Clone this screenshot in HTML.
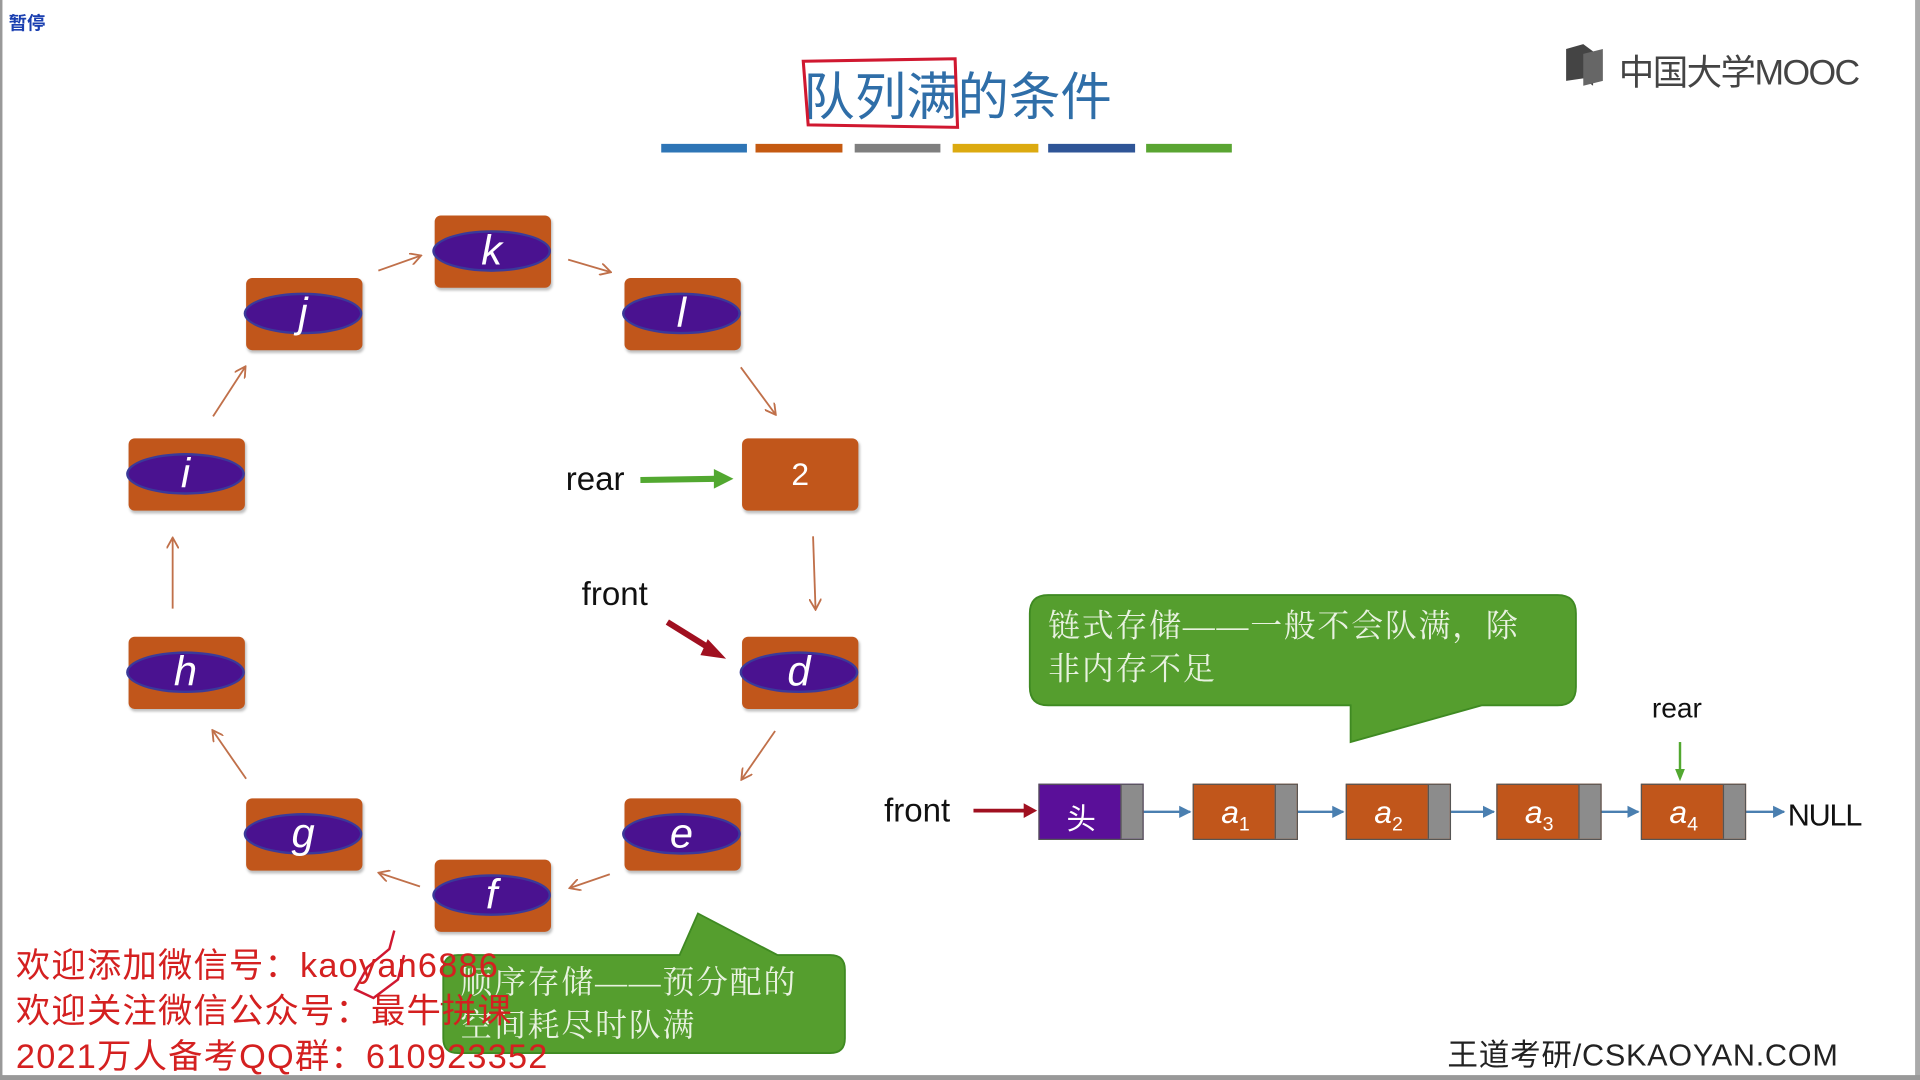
<!DOCTYPE html>
<html><head><meta charset="utf-8"><style>
html,body{margin:0;padding:0;background:#fff;overflow:hidden;}
body{width:1920px;height:1080px;position:relative;}
#s{position:absolute;left:0;top:0;width:1568px;height:882px;transform:scale(1.22449);transform-origin:0 0;font-family:"Liberation Sans","Noto Sans CJK SC",sans-serif;}
.a{position:absolute;white-space:nowrap;}
.n{position:absolute;width:95px;height:59px;background:#c1561b;border-radius:5px;box-shadow:1px 2px 2px rgba(0,0,0,.25);}
.e{position:absolute;left:-2px;top:12px;width:97px;height:34px;border-radius:50%;background:#4a1290;border:2px solid #3a3a9a;box-sizing:border-box;color:#fff;font-family:"Liberation Sans",sans-serif;font-style:italic;font-size:34px;line-height:30px;text-align:center;}
.cn{font-family:"Liberation Sans","Noto Sans CJK SC",sans-serif;}
.ln{position:absolute;top:640px;width:86px;height:46px;background:#c1561b;border:1px solid #555;box-sizing:border-box;}
.ln i{position:absolute;right:0;top:0;width:17px;height:100%;background:#8c8c8c;border-left:1px solid #555;}
.ln span{position:absolute;left:0;width:68px;top:7px;text-align:center;color:#fff;font-family:"Liberation Sans",sans-serif;font-style:italic;font-size:26px;}
.ln sub{font-size:16px;font-style:normal;}
</style></head><body><div id="s">
<div style="position:absolute;left:0;top:0;width:2px;height:882px;background:#999"></div>
<div style="position:absolute;left:1564px;top:0;width:4px;height:882px;background:#aaa"></div>
<div style="position:absolute;left:0;top:878px;width:1568px;height:4px;background:#999"></div>
<div class="a" style="left:7px;top:8px;font-size:15px;color:#1a3fb0;font-weight:bold">暂停</div>
<div class="a" style="left:656px;top:46px;font-size:42px;color:#2f6ea8">队列满的条件</div>
<svg class="a" style="left:0;top:0" width="1568" height="882">
<path d="M656 50 L780 48 L782 104 L660 102 Z" fill="none" stroke="#d01830" stroke-width="2.5"/>
<path d="M322 760 L318 775 L300 790 L290 808 L305 815 L325 800 L330 780" fill="none" stroke="#d01830" stroke-width="2"/>
<path d="M360 820 L420 822" stroke="#d01830" stroke-width="2"/>
<g stroke-width="7">
<line x1="540" y1="121" x2="610" y2="121" stroke="#2e75b6"/>
<line x1="617" y1="121" x2="688" y2="121" stroke="#c55a11"/>
<line x1="698" y1="121" x2="768" y2="121" stroke="#7f7f7f"/>
<line x1="778" y1="121" x2="848" y2="121" stroke="#dcaa10"/>
<line x1="856" y1="121" x2="927" y2="121" stroke="#2f5597"/>
<line x1="936" y1="121" x2="1006" y2="121" stroke="#5aa532"/>
</g>
<defs>
<marker id="b" markerWidth="10" markerHeight="10" refX="8" refY="5" orient="auto" markerUnits="userSpaceOnUse"><path d="M0 0 L9 5 L0 10" fill="none" stroke="#c0704a" stroke-width="1.5"/></marker>
<marker id="bl" markerWidth="10" markerHeight="10" refX="9" refY="5" orient="auto" markerUnits="userSpaceOnUse"><path d="M0 0 L10 5 L0 10 Z" fill="#4a7fb0"/></marker>
</defs>
<g stroke="#c0704a" stroke-width="1.5" marker-end="url(#b)">
<line x1="309" y1="221" x2="343" y2="209"/>
<line x1="464" y1="212" x2="498" y2="222"/>
<line x1="605" y1="300" x2="633" y2="338"/>
<line x1="664" y1="438" x2="666" y2="497"/>
<line x1="633" y1="597" x2="606" y2="636"/>
<line x1="498" y1="714" x2="466" y2="725"/>
<line x1="343" y1="724" x2="310" y2="713"/>
<line x1="201" y1="636" x2="174" y2="597"/>
<line x1="141" y1="497" x2="141" y2="440"/>
<line x1="174" y1="340" x2="200" y2="300"/>
</g>
<line x1="523" y1="392" x2="585" y2="391" stroke="#52a830" stroke-width="5"/>
<path d="M583 383 L599 391 L583 399 Z" fill="#52a830"/>
<line x1="545" y1="508" x2="582" y2="531" stroke="#a01020" stroke-width="5"/>
<path d="M578 522 L593 538 L572 535 Z" fill="#a01020"/>
<line x1="795" y1="662" x2="838" y2="662" stroke="#a01020" stroke-width="3"/>
<path d="M836 656 L847 662 L836 668 Z" fill="#a01020"/>
<line x1="1372" y1="606" x2="1372" y2="630" stroke="#52a830" stroke-width="2"/>
<path d="M1368 628 L1372 638 L1376 628 Z" fill="#52a830"/>
<g stroke="#4a7fb0" stroke-width="2" marker-end="url(#bl)">
<line x1="934" y1="663" x2="972" y2="663"/>
<line x1="1060" y1="663" x2="1097" y2="663"/>
<line x1="1185" y1="663" x2="1220" y2="663"/>
<line x1="1307" y1="663" x2="1338" y2="663"/>
<line x1="1425" y1="663" x2="1457" y2="663"/>
</g>
<path d="M856 486 H1272 Q1287 486 1287 501 V561 Q1287 576 1272 576 H1210 L1103 606 V576 H856 Q841 576 841 561 V501 Q841 486 856 486 Z" fill="#559e2e" stroke="#3f8a22" stroke-width="1.5"/>
<path d="M374 780 H555 L570 746 L635 780 H678 Q690 780 690 792 V848 Q690 860 678 860 H374 Q362 860 362 848 V792 Q362 780 374 780 Z" fill="#559e2e" stroke="#3f8a22" stroke-width="1.5"/>
<g transform="translate(1279,36)">
<path d="M0 4 L14 0 L22 6 L22 34 L14 28 L0 30 Z" fill="#444"/>
<path d="M14 8 L30 4 L30 30 L14 34 Z" fill="#666"/>
</g>
</svg>
<div class="a" style="left:1322px;top:36px;font-size:29px;color:#444;letter-spacing:-1.3px">中国大学MOOC</div>

<div class="n" style="left:355px;top:176px"><div class="e">k</div></div>
<div class="n" style="left:201px;top:227px"><div class="e">j</div></div>
<div class="n" style="left:510px;top:227px"><div class="e">l</div></div>
<div class="n" style="left:105px;top:358px"><div class="e">i</div></div>
<div class="n" style="left:606px;top:358px;color:#fff;font-size:26px;text-align:center;line-height:59px">2</div>
<div class="n" style="left:105px;top:520px"><div class="e">h</div></div>
<div class="n" style="left:606px;top:520px"><div class="e">d</div></div>
<div class="n" style="left:201px;top:652px"><div class="e">g</div></div>
<div class="n" style="left:510px;top:652px"><div class="e">e</div></div>
<div class="n" style="left:355px;top:702px"><div class="e">f</div></div>

<div class="a" style="left:462px;top:376px;font-size:27px;color:#111">rear</div>
<div class="a" style="left:475px;top:470px;font-size:27px;color:#111">front</div>
<div class="a" style="left:722px;top:647px;font-size:27px;color:#111">front</div>
<div class="a" style="left:1349px;top:565px;font-size:23px;color:#111">rear</div>
<div class="a" style="left:1460px;top:652px;font-size:25px;color:#111;letter-spacing:-1px">NULL</div>

<div class="ln" style="left:848px;background:#5a0f99"><i></i><span class="cn" style="font-style:normal;font-size:24px;top:8px">头</span></div>
<div class="ln" style="left:974px"><i></i><span>a<sub>1</sub></span></div>
<div class="ln" style="left:1099px"><i></i><span>a<sub>2</sub></span></div>
<div class="ln" style="left:1222px"><i></i><span>a<sub>3</sub></span></div>
<div class="ln" style="left:1340px"><i></i><span>a<sub>4</sub></span></div>

<div class="a" style="left:856px;top:494px;font-size:26px;color:#e8f2e0;line-height:35px;letter-spacing:1.5px;font-family:'Liberation Serif','Noto Serif CJK SC',serif">链式存储——一般不会队满，除<br>非内存不足</div>
<div class="a" style="left:376px;top:785px;font-size:26px;color:#e8f2e0;line-height:35px;letter-spacing:1.5px;font-family:'Liberation Serif','Noto Serif CJK SC',serif">顺序存储——预分配的<br>空间耗尽时队满</div>

<div class="a" style="left:13px;top:770px;font-size:28px;color:#d42020;line-height:37px;letter-spacing:1px">欢迎添加微信号：kaoyan6886<br>欢迎关注微信公众号：最牛拼课<br>2021万人备考QQ群：610923352</div>
<div class="a" style="left:1182px;top:842px;font-size:25px;color:#222;letter-spacing:0.6px">王道考研/CSKAOYAN.COM</div>
</div></body></html>
